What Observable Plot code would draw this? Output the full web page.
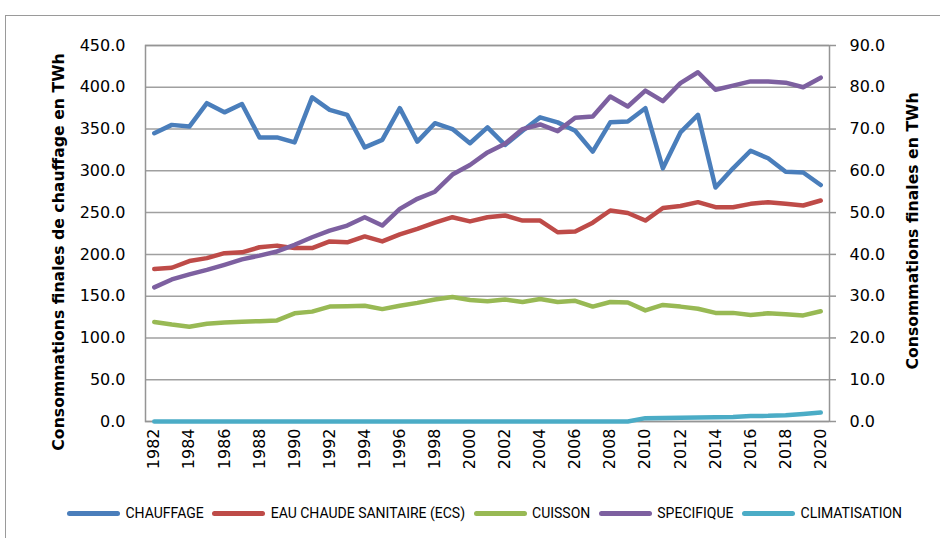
<!DOCTYPE html>
<html>
<head>
<meta charset="utf-8">
<script src="https://cdn.jsdelivr.net/npm/d3@7"></script>
<script src="https://cdn.jsdelivr.net/npm/@observablehq/plot@0.6"></script>
<style>
  body { margin: 0; background: #fff; }
  #wrap { position: relative; width: 940px; height: 538px; overflow: hidden; background: #fff; font-family: "DejaVu Sans", sans-serif; }
  #frame { position: absolute; left: 5px; top: 15px; width: 1000px; height: 600px; border-left: 1.5px solid #9a9a9a; border-top: 1.5px solid #9a9a9a; }
  #chart { position: absolute; left: 0; top: 0; }
  #chart svg text { font-family: "DejaVu Sans", sans-serif; font-size: 16px; fill: #000; }
  .ytitle { position: absolute; white-space: nowrap; font-weight: bold; font-size: 15.7px; color: #000; transform: translate(-50%, -50%) rotate(-90deg); }
  #legend { position: absolute; left: 67px; top: 503px; height: 20px; display: flex; align-items: center; font-family: Roboto, sans-serif; font-size: 14px; color: #000; }
  .item { display: flex; align-items: center; margin-right: 8.5px; }
  .swatch { width: 53px; height: 5px; border-radius: 3px; margin-right: 5.5px; }
</style>
</head>
<body>
<div id="wrap">
  <div id="frame"></div>
  <div id="chart"></div>
  <div class="ytitle" id="tl" style="left:58px; top:252px;"></div>
  <div class="ytitle" id="tr" style="left:912px; top:231px;"></div>
  <div id="legend"></div>
</div>
<script>
const years = [1982,1983,1984,1985,1986,1987,1988,1989,1990,1991,1992,1993,1994,1995,1996,1997,1998,1999,2000,2001,2002,2003,2004,2005,2006,2007,2008,2009,2010,2011,2012,2013,2014,2015,2016,2017,2018,2019,2020];
const yearLabels = [1982,1984,1986,1988,1990,1992,1994,1996,1998,2000,2002,2004,2006,2008,2010,2012,2014,2016,2018,2020];

// left axis (TWh)
const chauffage = [345,355,353,381,370,380,340,340,334,388,373,367,328,337,375,335,357,350,333,352,331,348,364,358,348,323,358,359,375,303,346,367,280,303,324,315,299,298,283];
// right axis (TWh)
const ecs = [36.5,36.8,38.4,39.1,40.3,40.5,41.7,42.1,41.5,41.5,43.1,42.9,44.3,43.1,44.8,46.1,47.6,48.9,47.9,48.9,49.3,48.1,48.1,45.3,45.5,47.6,50.5,49.9,48.1,51.1,51.6,52.5,51.3,51.3,52.1,52.5,52.1,51.7,52.9];
const cuisson = [23.8,23.2,22.7,23.4,23.7,23.9,24.0,24.2,25.9,26.3,27.5,27.6,27.7,26.9,27.7,28.4,29.2,29.8,29.1,28.8,29.2,28.6,29.3,28.6,28.9,27.5,28.6,28.5,26.6,27.9,27.5,27.0,26.0,26.0,25.5,25.9,25.7,25.4,26.4];
const specifique = [32.1,34.0,35.2,36.3,37.5,38.8,39.7,40.7,42.3,44.1,45.7,46.9,48.9,46.9,50.9,53.3,55.0,59.1,61.4,64.4,66.5,70.0,71.1,69.5,72.7,73.0,77.8,75.4,79.2,76.7,81.0,83.6,79.4,80.4,81.4,81.4,81.1,80.0,82.3];
const climatisation = [0,0,0,0,0,0,0,0,0,0,0,0,0,0,0,0,0,0,0,0,0,0,0,0,0,0,0,0,0.8,0.85,0.9,0.95,1.0,1.1,1.3,1.35,1.5,1.8,2.15];

const seriesNames = ["CHAUFFAGE","EAU CHAUDE SANITAIRE (ECS)","CUISSON","SPECIFIQUE","CLIMATISATION"];
const seriesColors = ["#4a7ebb","#be4b48","#98b954","#7d60a0","#4bacc6"];
const seriesValues = [chauffage, ecs, cuisson, specifique, climatisation];
const seriesAxis = ["left","right","right","right","right"];
const leftTicks = [0,50,100,150,200,250,300,350,400,450];
const leftTitle = "Consommations finales de chauffage en TWh";
const rightTitle = "Consommations finales en TWh";
const ratio = 5; // right axis 90 <-> left axis 450

const rows = [];
seriesNames.forEach((name, s) => {
  seriesValues[s].forEach((v, i) => {
    rows.push({series: name, year: years[i], value: v, y: seriesAxis[s] === "left" ? v : v * ratio});
  });
});

const chart = Plot.plot({
  width: 940,
  height: 490,
  marginLeft: 145,
  marginRight: 111,
  marginTop: 45,
  marginBottom: 69,
  style: {fontFamily: "DejaVu Sans, sans-serif", fontSize: "16px", color: "#000", background: "transparent"},
  x: {type: "linear", domain: [years[0] - 0.5, years[years.length - 1] + 0.5]},
  y: {domain: [0, 450]},
  color: {domain: seriesNames, range: seriesColors},
  marks: [
    Plot.gridY(leftTicks, {stroke: "#a0a0a0", strokeOpacity: 1, strokeWidth: 1.5}),
    Plot.frame({stroke: "#959595", strokeWidth: 1.5}),
    Plot.axisY({anchor: "left", ticks: leftTicks, tickFormat: d => d.toFixed(1), tickSize: 0, tickPadding: 20, label: null}),
    Plot.axisY({anchor: "right", ticks: leftTicks, tickFormat: d => (d / ratio).toFixed(1), tickSize: 6, tickPadding: 14, label: null, stroke: "#959595", strokeWidth: 1.5}),
    Plot.axisX({ticks: yearLabels, tickFormat: d => String(d), tickRotate: -90, tickSize: 0, tickPadding: 7, label: null}),
    Plot.line(rows, {x: "year", y: "y", z: "series", stroke: "series", strokeWidth: 4.5, strokeLinejoin: "round", strokeLinecap: "round"})
  ]
});
document.getElementById("chart").appendChild(chart);
document.getElementById("tl").textContent = leftTitle;
document.getElementById("tr").textContent = rightTitle;

const legend = document.getElementById("legend");
seriesNames.forEach((name, i) => {
  const item = document.createElement("div");
  item.className = "item";
  const sw = document.createElement("div");
  sw.className = "swatch";
  sw.style.background = seriesColors[i];
  const t = document.createElement("span");
  t.textContent = name;
  item.appendChild(sw);
  item.appendChild(t);
  legend.appendChild(item);
});
</script>
</body>
</html>
